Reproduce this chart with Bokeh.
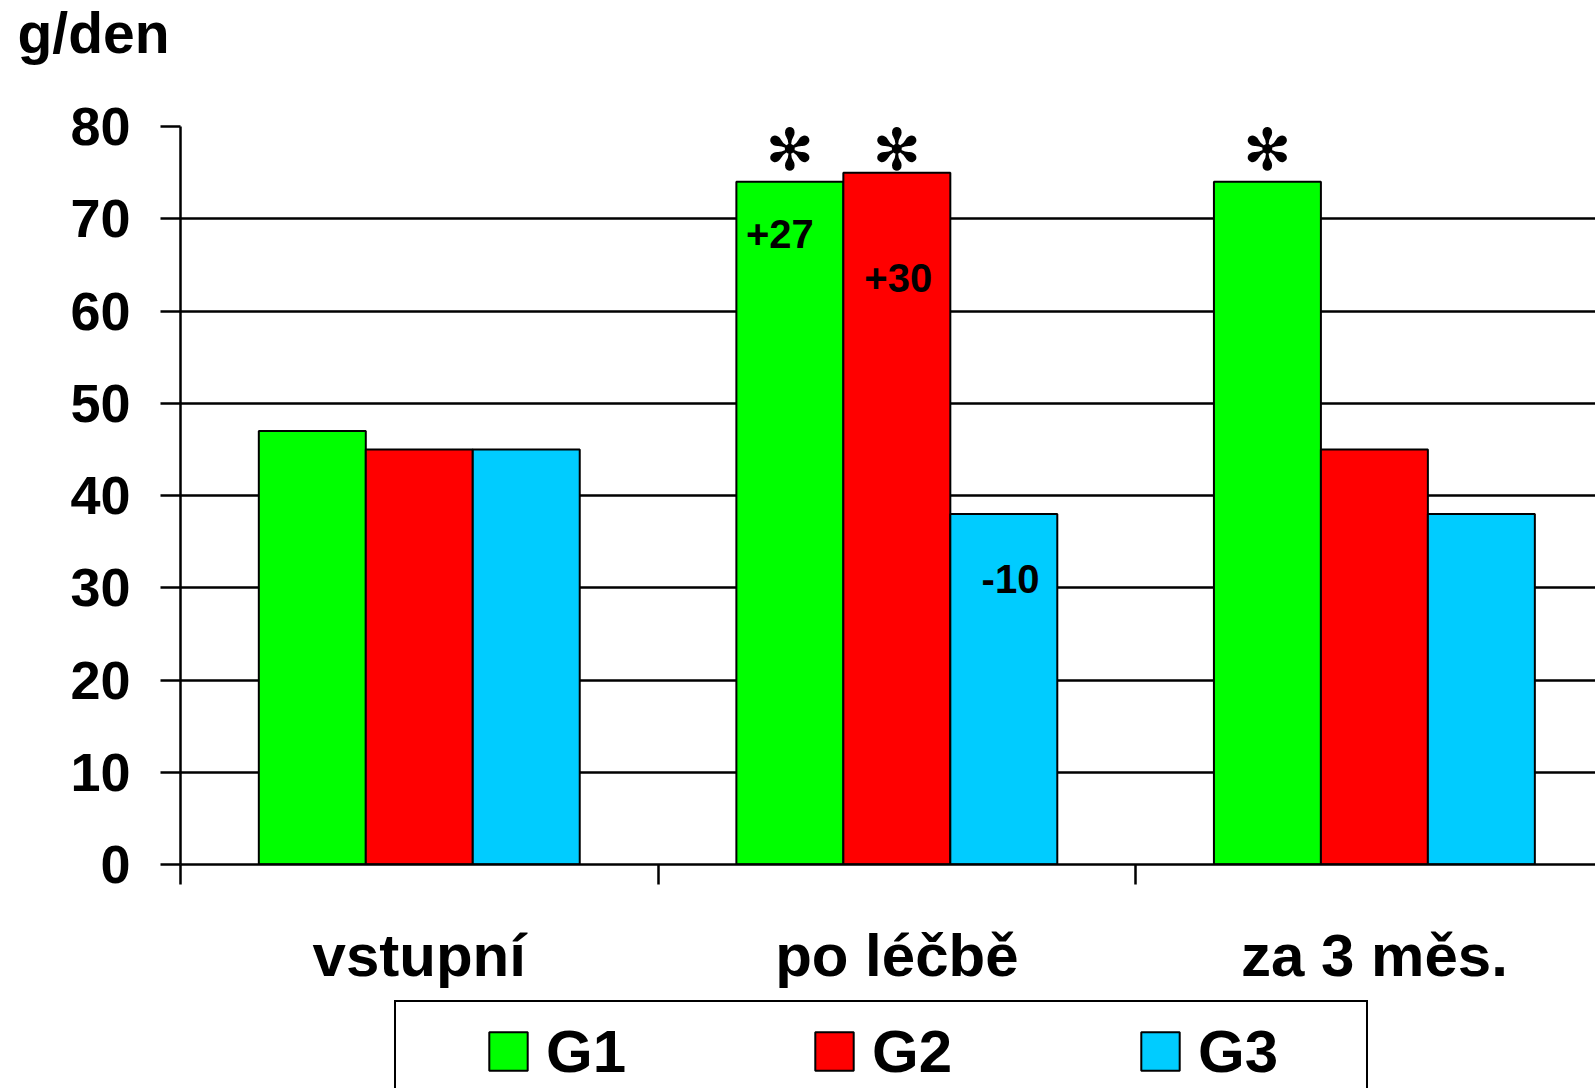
import numpy as np
from bokeh.plotting import figure
from bokeh.layouts import column
from bokeh.models import Range1d, FixedTicker, Legend, LegendItem, Title
from bokeh.core.properties import value
from bokeh.embed import file_html
from bokeh.resources import INLINE

# ---- data ----
categories = ["vstupní", "po léčbě", "za 3 měs."]
series = ["G1", "G2", "G3"]
g1 = [47, 74, 74]
g2 = [45, 75, 45]
g3 = [45, 38, 38]
colors = ["#00FF00", "#FF0000", "#00CCFF"]
y_ticks = [0, 10, 20, 30, 40, 50, 60, 70, 80]
y_unit = "g/den"
# difference labels inside the "po léčbě" bars
diff_labels = ["+27", "+30", "-10"]
diff_y = [68.3, 63.6, 31.0]
diff_dx = [-0.021, 0.003, 0.014]
# significance stars: (category index, series index)
star_cat = [1, 1, 2]
star_ser = [0, 1, 0]
star_y = 77.4

# ---- layout ----
W = 1595
BW = 0.224
FONT = "Liberation Sans"

p = figure(width=W, height=1000, x_range=Range1d(0, 2.963), y_range=Range1d(0, 80),
           output_backend="svg", toolbar_location=None, title=None,
           min_border_left=180, min_border_right=0, min_border_top=126, min_border_bottom=136)
p.outline_line_color = None
p.background_fill_color = "white"

renderers = []
for k, (vals, col) in enumerate(zip([g1, g2, g3], colors)):
    xs = [i + 0.5 + (k - 1) * BW for i in range(len(categories))]
    r = p.vbar(x=xs, top=vals, width=BW, bottom=0, fill_color=col,
               line_color="black", line_width=2)
    renderers.append(r)

# grid
p.xgrid.visible = False
p.ygrid.ticker = FixedTicker(ticks=y_ticks)
p.ygrid.grid_line_color = "black"
p.ygrid.grid_line_width = 2.5
p.ygrid.grid_line_alpha = 1

# y axis
ya = p.yaxis[0]
ya.ticker = FixedTicker(ticks=y_ticks)
ya.axis_line_width = 2.5
ya.axis_line_color = "black"
ya.major_tick_out = 20
ya.major_tick_in = 0
ya.major_tick_line_width = 2.5
ya.major_tick_line_color = "black"
ya.minor_tick_line_color = None
ya.major_label_standoff = 30
ya.major_label_text_font = FONT
ya.major_label_text_font_style = "bold"
ya.major_label_text_font_size = "54px"
ya.major_label_text_color = "black"

# x axis
xa = p.xaxis[0]
centers = [i + 0.5 for i in range(len(categories))]
bounds = [i for i in range(len(categories) + 1)]
xa.ticker = FixedTicker(ticks=centers, minor_ticks=bounds)
xa.major_label_overrides = {c: lab for c, lab in zip(centers, categories)}
xa.axis_line_width = 2.5
xa.axis_line_color = "black"
xa.major_tick_out = 0
xa.major_tick_in = 0
xa.minor_tick_out = 20
xa.minor_tick_in = 0
xa.minor_tick_line_width = 2.5
xa.minor_tick_line_color = "black"
xa.major_label_standoff = 37
xa.major_label_text_font = FONT
xa.major_label_text_font_style = "bold"
xa.major_label_text_font_size = "60px"
xa.major_label_text_color = "black"

# unit title at the very top-left (a blank spacer title keeps it away from the frame)
p.add_layout(Title(text=" ", text_font=FONT, text_font_size="40px", standoff=14), "above")
p.add_layout(Title(text=y_unit, align="left", offset=-163, standoff=0, vertical_align="top",
                   text_font=FONT, text_font_style="bold", text_font_size="57px",
                   text_color="black"), "above")

# difference labels
dx = [1 + 0.5 + (k - 1) * BW + d for k, d in enumerate(diff_dx)]
p.text(x=dx, y=diff_y, text=diff_labels, text_font=value(FONT),
       text_font_style="bold", text_font_size="40px", text_align="center",
       text_baseline="middle", text_color="black")

# stars
sx = [c + 0.5 + (s - 1) * BW for c, s in zip(star_cat, star_ser)]
p.text(x=sx, y=[star_y] * len(sx), text=["✻"] * len(sx), text_font=value("DejaVu Sans"),
       text_font_size="58px", text_align="center", text_baseline="middle", text_color="black")

# ---- legend strip ----
p2 = figure(width=W, height=88, x_range=Range1d(0, 1), y_range=Range1d(0, 1),
            x_axis_type=None, y_axis_type=None, output_backend="svg",
            toolbar_location=None, min_border=0)
p2.outline_line_color = None
p2.xgrid.visible = False
p2.ygrid.visible = False

# legend swatch renderers (no drawable data, only used by the legend)
nan = np.array([np.nan])
leg_r = [p2.vbar(x=nan, top=nan, width=0.1, fill_color=c, line_color="black", line_width=2)
         for c in colors]
dummy = p2.scatter(x=nan, y=nan, alpha=0)
box = Legend(items=[LegendItem(label=" ", renderers=[dummy])], location=(214, -66),
             orientation="horizontal", padding=0, margin=0, glyph_width=1, glyph_height=1,
             label_standoff=0, label_width=969, label_height=150,
             border_line_color="black", border_line_width=2, border_line_alpha=1,
             background_fill_color="white", background_fill_alpha=1)
p2.add_layout(box)

leg = Legend(items=[LegendItem(label=s, renderers=[r]) for s, r in zip(series, leg_r)],
             location=(304, -3), orientation="horizontal", padding=0, margin=0,
             spacing=179, glyph_width=48, glyph_height=48, label_standoff=14,
             label_width=85, label_height=80, border_line_alpha=0, background_fill_alpha=0,
             label_text_font=FONT, label_text_font_style="bold", label_text_font_size="60px",
             label_text_color="black")
p2.add_layout(leg)

layout = column(p, p2, spacing=0)
open("out.html", "w").write(file_html(layout, INLINE))
